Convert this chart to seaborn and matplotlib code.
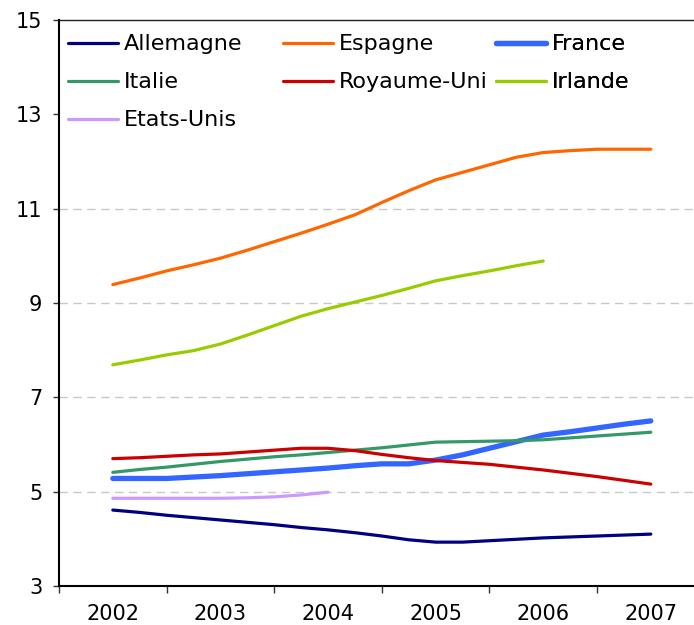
import matplotlib
matplotlib.use("Agg")
import matplotlib.pyplot as plt
import numpy as np
import pandas as pd
import seaborn as sns

# Quarterly observations, 2002 to 2007
annees = [2002, 2003, 2004, 2005, 2006, 2007]

allemagne = [4.61, 4.56, 4.50, 4.45, 4.40, 4.35, 4.30, 4.24, 4.19, 4.13, 4.06,
             3.98, 3.93, 3.93, 3.96, 3.99, 4.02, 4.04, 4.06, 4.08, 4.10]
espagne = [9.39, 9.53, 9.68, 9.81, 9.95, 10.12, 10.30, 10.48, 10.67, 10.87, 11.13,
           11.38, 11.61, 11.77, 11.93, 12.09, 12.19, 12.23, 12.26, 12.26, 12.26]
france = [5.28, 5.28, 5.28, 5.31, 5.34, 5.38, 5.42, 5.46, 5.50, 5.55, 5.59,
          5.59, 5.67, 5.78, 5.92, 6.06, 6.20, 6.27, 6.35, 6.43, 6.50]
italie = [5.41, 5.47, 5.52, 5.58, 5.64, 5.69, 5.74, 5.78, 5.83, 5.88, 5.93,
          5.99, 6.05, 6.06, 6.07, 6.08, 6.10, 6.14, 6.18, 6.22, 6.26]
royaume_uni = [5.70, 5.72, 5.75, 5.78, 5.80, 5.84, 5.88, 5.92, 5.92, 5.87, 5.79,
               5.72, 5.66, 5.62, 5.58, 5.52, 5.46, 5.39, 5.32, 5.24, 5.16]
irlande = [7.69, 7.79, 7.90, 7.99, 8.13, 8.32, 8.52, 8.72, 8.88, 9.02, 9.16,
           9.31, 9.47, 9.58, 9.68, 9.79, 9.89]
etats_unis = [4.86, 4.86, 4.86, 4.86, 4.86, 4.87, 4.89, 4.93, 4.99]

series = {
    "Allemagne": allemagne,
    "Espagne": espagne,
    "France": france,
    "Italie": italie,
    "Royaume-Uni": royaume_uni,
    "Irlande": irlande,
    "Etats-Unis": etats_unis,
}
couleurs = {
    "Allemagne": "#000080",
    "Espagne": "#FF6600",
    "France": "#3366FF",
    "Italie": "#339966",
    "Royaume-Uni": "#CC0000",
    "Irlande": "#99CC00",
    "Etats-Unis": "#CC99FF",
}
epaisseurs = {k: 2.3 for k in series}
epaisseurs["France"] = 3.8

rows = []
for pays, vals in series.items():
    for k, v in enumerate(vals):
        rows.append({"pays": pays, "t": annees[0] + 0.25 * k, "valeur": v})
df = pd.DataFrame(rows)

sns.set_theme(style="white")
plt.rcParams["font.family"] = ["DejaVu Sans"]
plt.rcParams["text.color"] = "black"

W, H = 694, 625
fig = plt.figure(figsize=(W / 100, H / 100), dpi=100)
ax = fig.add_axes([59 / W, (H - 586) / H, (W - 59) / W, 566 / H])

for pays in series:
    sub = df[df["pays"] == pays]
    sns.lineplot(data=sub, x="t", y="valeur", ax=ax, color=couleurs[pays],
                 linewidth=epaisseurs[pays], legend=False)
    ln = ax.get_lines()[-1]
    ln.set_solid_capstyle("round")
    ln.set_solid_joinstyle("round")

# axes
px_per_year = 107.6
ax.set_xlim(annees[0] - 0.5, annees[0] - 0.5 + (W - 59) / px_per_year)
ax.set_ylim(3, 15)
ax.set_yticks([3, 5, 7, 9, 11, 13, 15])
ax.set_xticks([a - 0.5 for a in annees])
ax.set_xticklabels([])
ax.set_xticks(annees, minor=True)
ax.set_xticklabels([str(a) for a in annees], minor=True)
ax.set_xlabel("")
ax.set_ylabel("")

ax.tick_params(axis="y", which="major", direction="out", length=4, width=1,
               color="#333333", labelsize=15, pad=8, labelcolor="black", left=True)
ax.tick_params(axis="x", which="major", direction="out", length=5, width=1,
               color="#333333", bottom=True)
ax.tick_params(axis="x", which="minor", length=0, labelsize=15, pad=12.8,
               labelcolor="black", bottom=True)

ax.grid(axis="y", color="#C8C8C8", linestyle=(0, (6, 4)), linewidth=1)
for val, gl in zip(ax.get_yticks(), ax.get_ygridlines()):
    if val in (3, 13, 15):
        gl.set_visible(False)
ax.set_axisbelow(True)

for side in ("left", "bottom"):
    ax.spines[side].set_color("black")
    ax.spines[side].set_linewidth(1.5)
ax.spines["top"].set_color("#222222")
ax.spines["top"].set_linewidth(1.0)
ax.spines["right"].set_visible(False)

# legend in three columns
colonnes = [
    (["Allemagne", "Italie", "Etats-Unis"], 68),
    (["Espagne", "Royaume-Uni"], 283),
    (["France", "Irlande"], 496),
]
fs = 16
fs_px = fs * 100 / 72
for noms, x0 in colonnes:
    handles = [plt.Line2D([], [], color=couleurs[n], linewidth=epaisseurs[n],
                          solid_capstyle="round") for n in noms]
    leg = ax.legend(handles, noms, loc="upper left",
                    bbox_to_anchor=(x0 / W, 1 - 34.5 / H),
                    bbox_transform=fig.transFigure, frameon=False,
                    borderpad=0, borderaxespad=0, fontsize=fs,
                    handlelength=50 / fs_px, handletextpad=6 / fs_px,
                    labelspacing=0.81, labelcolor="black")
    ax.add_artist(leg)

fig.savefig("out.png", dpi=100)
